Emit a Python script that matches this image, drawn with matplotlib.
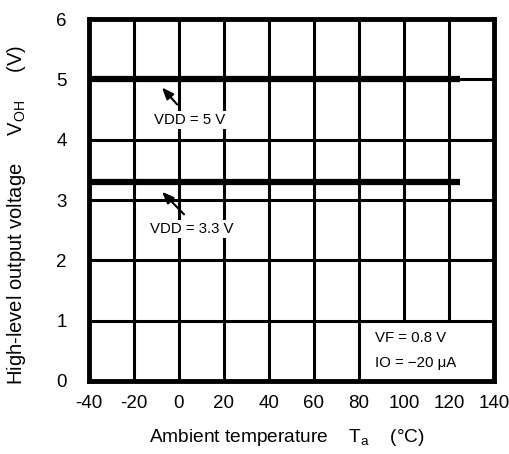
import numpy as np
import matplotlib
matplotlib.use("Agg")
import matplotlib.pyplot as plt

plt.rcParams['font.family'] = ['Liberation Sans', 'DejaVu Sans']
plt.rcParams['mathtext.fontset'] = 'custom'
plt.rcParams['mathtext.rm'] = 'Liberation Sans'
plt.rcParams['mathtext.it'] = 'Liberation Sans'
plt.rcParams['axes.unicode_minus'] = False

# data
temp = [-40, 125]
voh_5v = [5.0, 5.0]
voh_33v = [3.3, 3.3]
x_ticks = [-40, -20, 0, 20, 40, 60, 80, 100, 120, 140]
y_ticks = [0, 1, 2, 3, 4, 5, 6]

fig = plt.figure(figsize=(5.1, 4.54), dpi=100)
ax = fig.add_axes([0.1745, 0.1608, 0.7941, 0.7972])
ax.set_xlim(-40, 140)
ax.set_ylim(0, 6)

# grid, leaving the condition box (80..140, 0..1) empty
for xv in x_ticks[1:-1]:
    y0 = 1 if xv > 80 else 0
    ax.plot([xv, xv], [y0, 6], color='k', lw=2.2, zorder=1)
for yv in y_ticks[1:-1]:
    ax.plot([-40, 140], [yv, yv], color='k', lw=2.2, zorder=1)

ax.plot(temp, voh_5v, color='k', lw=4.5, solid_capstyle='butt', zorder=2)
ax.plot(temp, voh_33v, color='k', lw=4.5, solid_capstyle='butt', zorder=2)

bbox = dict(facecolor='white', edgecolor='none', pad=1.5)
arrow = dict(arrowstyle='-|>,head_length=0.5,head_width=0.2', color='k', lw=1.5, mutation_scale=14)
ax.annotate('', xy=(-8.4, 4.9), xytext=(0, 4.55), arrowprops=arrow, zorder=4)
ax.text(4.9, 4.33, 'VDD = 5 V', fontsize=10.8, ha='center', va='center', bbox=bbox, zorder=3)
ax.annotate('', xy=(-8.4, 3.17), xytext=(3.1, 2.73), arrowprops=arrow, zorder=4)
ax.text(5.8, 2.52, 'VDD = 3.3 V', fontsize=10.8, ha='center', va='center', bbox=bbox, zorder=3)

ax.text(87, 0.72, 'VF = 0.8 V', fontsize=10.8, ha='left', va='center')
ax.text(87, 0.30, 'IO = \u221220 \u03bcA', fontsize=10.8, ha='left', va='center')

ax.set_xticks(x_ticks)
ax.set_yticks(y_ticks)
ax.tick_params(length=0, labelsize=13.5)
ax.tick_params(axis='x', pad=10)
ax.tick_params(axis='y', pad=16)
for s in ax.spines.values():
    s.set_linewidth(3.5)
    s.set_zorder(5)

ax.set_xlabel('Ambient temperature    T$_{\\mathrm{a}}$    (\u00b0C)', fontsize=13.8, va='center')
ax.set_ylabel('High-level output voltage     V$_{\\mathrm{OH}}$     (V)', fontsize=14.5, va='center')
ax.xaxis.set_label_coords(0.49, -0.155)
ax.yaxis.set_label_coords(-0.178, 0.46)

fig.savefig('out.png', dpi=100)
